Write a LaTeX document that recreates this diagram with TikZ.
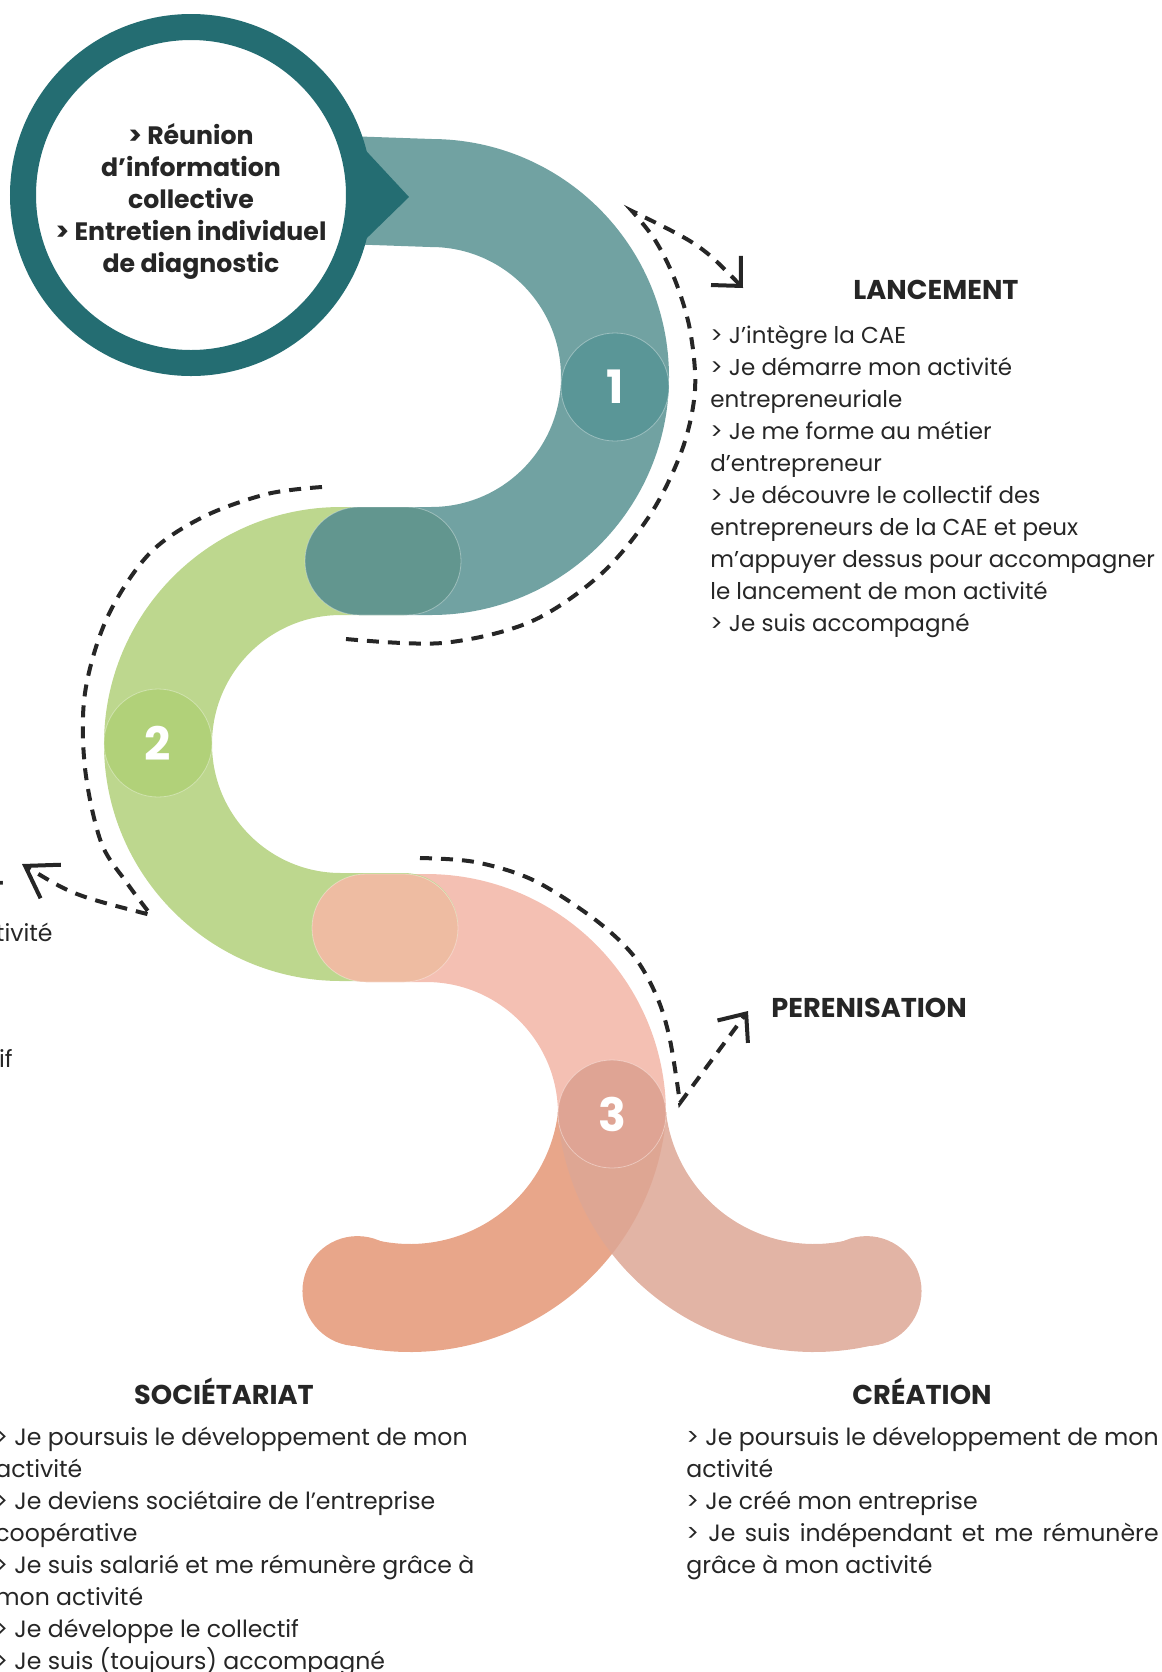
\documentclass[tikz,border=0pt]{standalone}
\usepackage{fontspec}
\setmainfont{Poppins}
\usetikzlibrary{arrows.meta,shapes.misc}
\definecolor{ringteal}{HTML}{246D72}
\definecolor{bandteal}{HTML}{71A2A2}
\definecolor{circteal}{HTML}{5A9697}
\definecolor{pillteal}{HTML}{62968F}
\definecolor{bandgreen}{HTML}{BDD78E}
\definecolor{circgreen}{HTML}{B1D179}
\definecolor{pillpeach}{HTML}{EEBCA2}
\definecolor{bandpink}{HTML}{F4C0B3}
\definecolor{circpink}{HTML}{DFA494}
\definecolor{branchL}{HTML}{E8A68A}
\definecolor{branchR}{RGB}{221,167,149}
\definecolor{txt}{HTML}{262626}
\newlength\crewidth
\newcommand\bodysize{\fontsize{11.8}{16}\selectfont}
\newcommand\lansize{\fontsize{11.5}{16}\selectfont}
\begin{document}
\settowidth\crewidth{\bodysize > Je poursuis le développement de mon}%
\begin{tikzpicture}[x=0.5pt,y=-0.5pt,
  band/.style={line width=54pt},
  faint/.style={draw=white, draw opacity=0.35, line width=0.4pt},
  num/.style={circle, minimum size=54pt, inner sep=0pt, faint, text=white, font=\bfseries\fontsize{23}{23}\selectfont},
  pill/.style={rounded rectangle, minimum height=54pt, inner sep=0pt, faint},
  guide/.style={line width=2pt, dash pattern=on 6pt off 4.5pt, draw=txt},
  body/.style={font=\bodysize, text=txt, anchor=base west, inner sep=0pt},
  head/.style={font=\bfseries\fontsize{13.6}{16}\selectfont, text=txt, anchor=base, inner sep=0pt},
  ringtext/.style={font=\bfseries\fontsize{12.6}{16}\selectfont, text=txt, anchor=base, inner sep=0pt},
]
\useasboundingbox (0,0) rectangle (1162,1672);

% ---- bottom branches
\coordinate (cL) at (410,1095);
\coordinate (cR) at (814,1095);
\begin{scope}
\clip (0,1112) rectangle (1162,1672);
\draw[band, branchL] (cL) ++(-5:203) arc[start angle=-5, end angle=105, radius=203] coordinate (endL);
\fill[branchL] (endL) circle[radius=55];
\begin{scope}[transparency group, opacity=0.85]
\draw[band, branchR] (cR) ++(185:203) arc[start angle=185, end angle=75, radius=203] coordinate (endR);
\fill[branchR] (endR) circle[radius=55];
\end{scope}
\end{scope}

% ---- pink band
\draw[band, bandpink, line cap=round] (366,928) -- (426,928) arc[start angle=-90, end angle=0, radius=186];
% ---- green band
\draw[band, bandgreen, line cap=round] (404,561) -- (341,561) arc[start angle=-90, end angle=-270, radius=183] -- (404,927);
% ---- teal band
\draw[band, bandteal, line cap=round] (345,190) -- (431,193) arc[start angle=-90, end angle=90, radius=184] -- (359,561);

% ---- overlap pills
\node[pill, fill=pillteal, minimum width=78pt] (pill1) at (383,561) {};
\node[pill, fill=pillpeach, minimum width=73pt] (pill2) at (385,928) {};

% ---- numbered circles
\node[num, fill=circteal] (n1) at (615,387) {1};
\node[num, fill=circgreen] (n2) at (158,743) {2};
\node[num, fill=circpink] (n3) at (612,1114) {3};

% ---- start ring
\fill[ringteal] (330,112) -- (409,197) -- (330,274) -- cycle;
\node[circle, fill=white, draw=ringteal, line width=13pt, minimum size=168pt, inner sep=0pt] (ring) at (191,195) {};
\node[ringtext] (r1) at (191,144) {> Réunion};
\node[ringtext] (r2) at (191,176) {d’information};
\node[ringtext] (r3) at (191,208) {collective};
\node[ringtext] (r4) at (191,240) {> Entretien individuel};
\node[ringtext] (r5) at (191,272) {de diagnostic};

% ---- LANCEMENT
\node[head] (lanH) at (936,299) {LANCEMENT};
\foreach \t [count=\i] in {{> J’intègre la CAE},{> Je démarre mon activité},{entrepreneuriale},{> Je me forme au métier},{d’entrepreneur},{> Je découvre le collectif des},{entrepreneurs de la CAE et peux},{m’appuyer dessus pour accompagner},{le lancement de mon activité},{> Je suis accompagné}}
  \node[body, font=\lansize] (lan\i) at (710,{311+32*\i}) {\t};

% ---- PERENISATION
\node[head, anchor=base west] (perH) at (771,1017) {PERENISATION};

% ---- SOCIETARIAT
\node[head] (socH) at (224,1404) {SOCIÉTARIAT};
\foreach \t [count=\i] in {{> Je poursuis le développement de mon},{activité},{> Je deviens sociétaire de l’entreprise},{coopérative},{> Je suis salarié et me rémunère grâce à},{mon activité},{> Je développe le collectif},{> Je suis (toujours) accompagné}}
  \node[body] (soc\i) at (-5,{1413+32*\i}) {\t};

% ---- CREATION
\node[head] (creH) at (922,1404) {CRÉATION};
\node[body] (cre1) at (686,1445) {> Je poursuis le développement de mon};
\node[body] (cre2) at (686,1477) {activité};
\node[body] (cre3) at (686,1509) {> Je créé mon entreprise};
\node[body] (cre4) at (686,1541) {\makebox[\crewidth][s]{> Je suis indépendant et me rémunère}};
\node[body] (cre5) at (686,1573) {grâce à mon activité};

% ---- fragments of the cut-off left column
\node[head, anchor=base east] (fragH) at (4,900) {T};
\node[body, anchor=base east] (fragA) at (53,941) {tivité};
\node[body, anchor=base east] (fragB) at (13,1067) {if};

% ---- dashed guides
\coordinate (lanJ) at (632,211);
\coordinate (lanTip) at (743,288);
\draw[guide, -{Straight Barb[length=10.8pt, width=20.8pt]}]
  plot[smooth, tension=0.55] coordinates {(346,639) (442,643) (530,622) (600,575) (650,515) (682,450) (695,390) (690,330) (675,280) (655,240) (lanJ)}
  .. controls (701,245) .. (lanTip);

\coordinate (devJ) at (151,915);
\coordinate (devTip) at (22,864);
\draw[guide, -{Straight Barb[length=15pt, width=19.6pt]}]
  plot[smooth, tension=0.55] coordinates {(322,487) (267,494) (203,517) (149,554) (107,618) (85,693) (85,768) (101,842) (127,883) (devJ)}
  .. controls (73,895) .. (devTip);

\coordinate (perJ) at (680,1103);
\coordinate (perTip) at (748,1011);
\draw[guide, -{Straight Barb[length=11.3pt, width=18.9pt]}]
  plot[smooth, tension=0.55] coordinates {(420,858) (475,862) (533,880) (593,918) (633,955) (657,997) (670,1040) (perJ)}
  -- (perTip);
\end{tikzpicture}
\end{document}
